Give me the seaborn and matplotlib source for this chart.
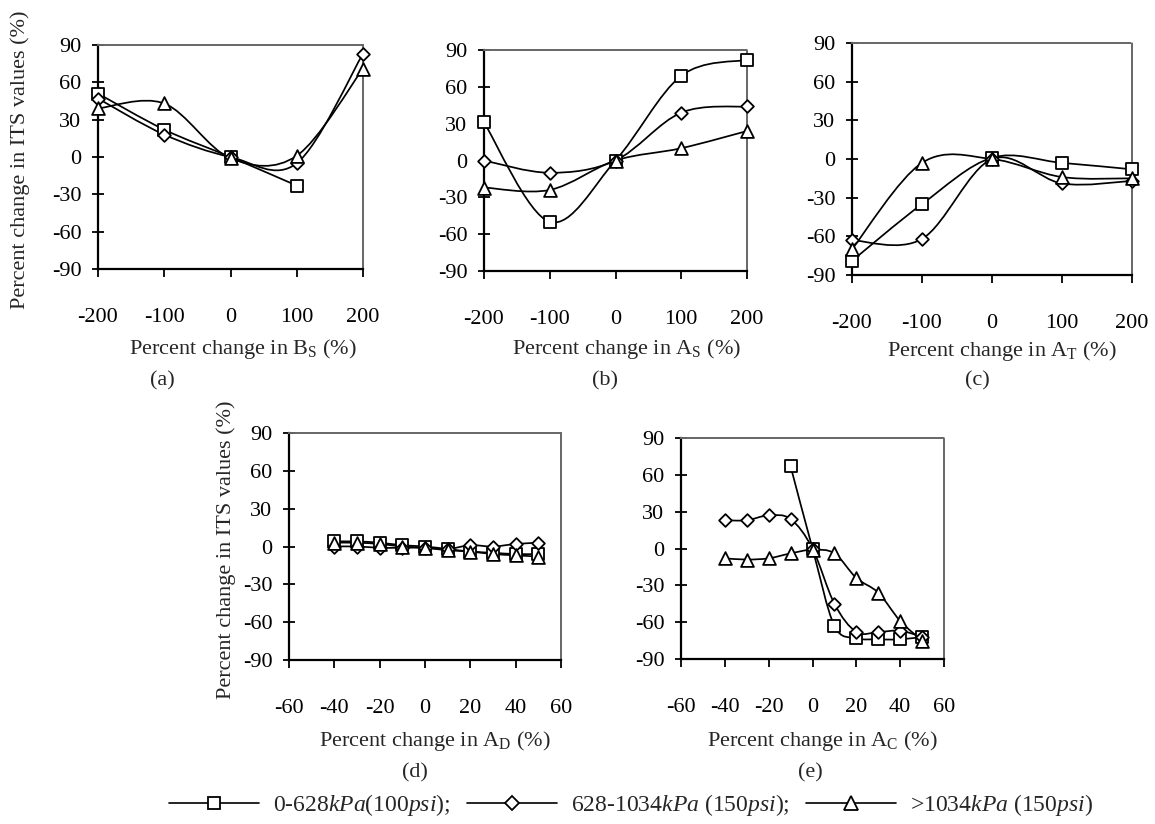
import numpy as np
import matplotlib
matplotlib.use("Agg")
import matplotlib.pyplot as plt
import seaborn as sns
from matplotlib.path import Path
from matplotlib.patches import PathPatch
from matplotlib.lines import Line2D

# ---- data ----
x_wide = [-200, -100, 0, 100, 200]
x_narrow = [-40, -30, -20, -10, 0, 10, 20, 30, 40, 50]

# (a) B_S
a_sq_x = [-200, -100, 0, 100]
a_sq = [51, 22, 0, -23]
a_di = [47, 18, 0, -5, 83]
a_tr = [39, 43, -1, 1, 71]
# (b) A_S
b_sq = [31, -50, 0, 69, 82]
b_di = [0, -10, 0, 39, 44]
b_tr = [-22, -24, 0, 10, 24]
# (c) A_T
c_sq = [-79, -35, 1, -3, -8]
c_di = [-63, -62, 0, -19, -17]
c_tr = [-70, -3, 0, -14, -15]
# (d) A_D
d_sq = [4, 4, 3, 1, 0, -2, -4, -5, -6, -6]
d_di = [0, 0, -1, -1, -1, -2, 1, 0, 2, 3]
d_tr = [3, 3, 2, 0, -1, -3, -4, -6, -7, -8]
# (e) A_C
e_sq_x = [-10, 0, 10, 20, 30, 40, 50]
e_sq = [67, 0, -63, -73, -74, -74, -72]
e_di = [23, 23, 27, 24, 0, -45, -68, -68, -67, -72]
e_tr = [-8, -9, -8, -4, -1, -4, -24, -36, -59, -75]

series_labels = [r"0-628$\mathit{kPa}$(100$\mathit{psi}$);",
                 r"628-1034$\mathit{kPa}$ (150$\mathit{psi}$);",
                 r">1034$\mathit{kPa}$ (150$\mathit{psi}$)"]

sns.set_theme(style="ticks")
plt.rcParams["font.family"] = ["Liberation Serif", "DejaVu Serif"]
plt.rcParams["mathtext.fontset"] = "custom"
plt.rcParams["mathtext.rm"] = "Liberation Serif"
plt.rcParams["mathtext.it"] = "Liberation Serif:italic"
plt.rcParams["axes.unicode_minus"] = False

W, H = 1155, 824
fig = plt.figure(figsize=(W / 100, H / 100), dpi=100)

MARK = {"s": dict(marker="s", s=75), "D": dict(marker="D", s=42), "^": dict(marker="^", s=85)}


def smooth_path(xs, ys):
    # excel-style smoothed line (bezier through every data point)
    pts = np.column_stack([xs, ys]).astype(float)
    n = len(pts)
    verts, codes = [pts[0]], [Path.MOVETO]
    for i in range(n - 1):
        p0 = pts[i - 1] if i > 0 else pts[i]
        p1, p2 = pts[i], pts[i + 1]
        p3 = pts[i + 2] if i + 2 < n else pts[i + 1]
        verts += [p1 + (p2 - p0) / 6, p2 - (p3 - p1) / 6, p2]
        codes += [Path.CURVE4] * 3
    return Path(verts, codes)


def add_axes_px(left, top, right, bottom):
    return fig.add_axes([left / W, 1 - bottom / H, (right - left) / W, (bottom - top) / H])


def draw_series(ax, xs, ys, m):
    ax.add_patch(PathPatch(smooth_path(xs, ys), fill=False, ec="black", lw=1.25,
                           zorder=2, clip_on=False))
    sns.scatterplot(x=xs, y=ys, ax=ax, color="white", edgecolor="black",
                    linewidth=1.3, zorder=3, clip_on=False, legend=False, **MARK[m])


def style_axes(ax, xlim, xticks):
    ax.set_xlim(*xlim)
    ax.set_ylim(-90, 90)
    ax.set_xticks(xticks)
    ax.set_yticks(range(-90, 91, 30))
    for s in ["left", "bottom"]:
        ax.spines[s].set_color("black")
        ax.spines[s].set_linewidth(1.6)
    for s in ["top", "right"]:
        ax.spines[s].set_visible(True)
        ax.spines[s].set_color("#666666")
        ax.spines[s].set_linewidth(1.4)
        ax.spines[s].set_linestyle((0, (1, 1)))
    ax.tick_params(axis="y", direction="inout", length=8, width=1.3, pad=8,
                   labelsize=16, left=True, colors="black")
    ax.tick_params(axis="x", direction="out", length=6, width=1.3, pad=22,
                   labelsize=16, bottom=True, colors="black")
    ax.set_facecolor("white")


ax_a = add_axes_px(98, 45, 363, 269)
ax_b = add_axes_px(484, 50, 747, 271)
ax_c = add_axes_px(852, 43, 1132, 275)
ax_d = add_axes_px(289, 433, 561, 660)
ax_e = add_axes_px(681, 438, 944, 659)

draw_series(ax_a, a_sq_x, a_sq, "s")
draw_series(ax_a, x_wide, a_di, "D")
draw_series(ax_a, x_wide, a_tr, "^")

draw_series(ax_b, x_wide, b_sq, "s")
draw_series(ax_b, x_wide, b_di, "D")
draw_series(ax_b, x_wide, b_tr, "^")

draw_series(ax_c, x_wide, c_sq, "s")
draw_series(ax_c, x_wide, c_di, "D")
draw_series(ax_c, x_wide, c_tr, "^")

draw_series(ax_d, x_narrow, d_sq, "s")
draw_series(ax_d, x_narrow, d_di, "D")
draw_series(ax_d, x_narrow, d_tr, "^")

draw_series(ax_e, e_sq_x, e_sq, "s")
draw_series(ax_e, x_narrow, e_di, "D")
draw_series(ax_e, x_narrow, e_tr, "^")

for ax in [ax_a, ax_b, ax_c]:
    style_axes(ax, (-200, 200), range(-200, 201, 100))
for ax in [ax_d, ax_e]:
    style_axes(ax, (-60, 60), range(-60, 61, 20))


def ftext(x, y, s, **kw):
    fig.text(x / W, 1 - y / H, s, ha="center", va="center", fontsize=16, **kw)


ftext(243, 349, r"Percent change in B$_\mathrm{S}$ (%)")
ftext(627, 349, r"Percent change in A$_\mathrm{S}$ (%)")
ftext(1002, 351, r"Percent change in A$_\mathrm{T}$ (%)")
ftext(435, 741, r"Percent change in A$_\mathrm{D}$ (%)")
ftext(822, 741, r"Percent change in A$_\mathrm{C}$ (%)")

ftext(162, 381, "(a)")
ftext(605, 381, "(b)")
ftext(977, 381, "(c)")
ftext(415, 773, "(d)")
ftext(810, 773, "(e)")

ftext(20, 160, "Percent change in ITS values (%)", rotation=90)
ftext(226, 550, "Percent change in ITS values (%)", rotation=90)

handles = [Line2D([], [], color="black", lw=1.2, marker=m, mfc="white", mec="black",
                  mew=1.3, ms=ms)
           for m, ms in [("s", 9), ("D", 7), ("^", 9.5)]]
fig.legend(handles, series_labels, loc="center", bbox_to_anchor=(631 / W, 1 - 805 / H),
           ncol=3, frameon=False, fontsize=17, handlelength=3.8, handletextpad=0.6,
           columnspacing=0.7, numpoints=1)

fig.savefig("out.png", dpi=100, facecolor="white")
